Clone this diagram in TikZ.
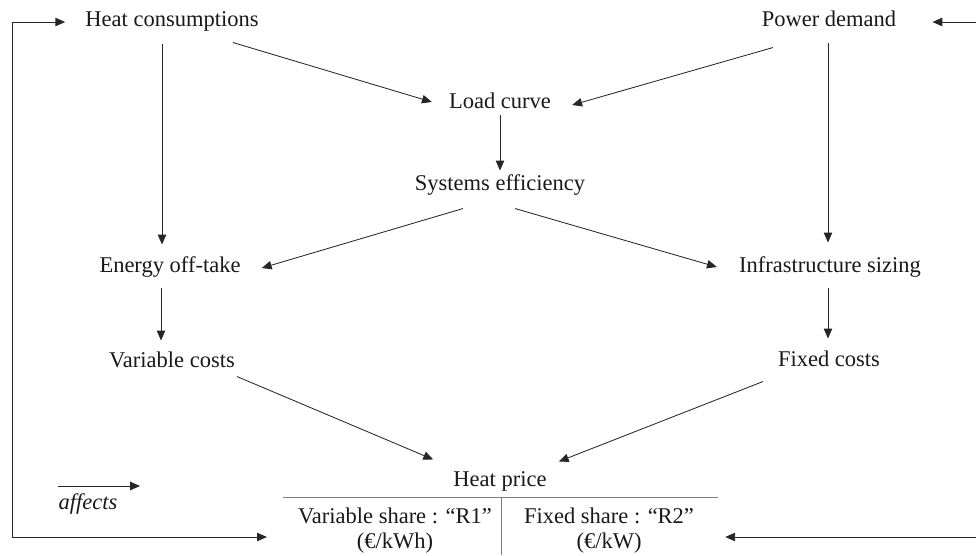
\documentclass[tikz,border=0pt]{standalone}
\usepackage{fontspec}
\setmainfont{Liberation Serif}
\usetikzlibrary{arrows.meta}
\usetikzlibrary{calc}

\begin{document}
\begin{tikzpicture}[x=0.025cm, y=-0.025cm,
    >={Triangle[length=7pt,width=6pt]},
    every node/.style={font=\fontsize{16}{17.8}\selectfont, text=black!90},
    lbl/.style={inner sep=0pt, text height=12pt, text depth=4pt},
    share/.style={inner sep=0pt, align=center},
    affect/.style={draw=black!85, line width=0.6pt, ->},
    tbl/.style={draw=black!50, line width=0.6pt}]
        \useasboundingbox (0,0) rectangle (976,555);
        \clip (0,0) rectangle (976,555);

        \node[lbl] (hc) at (172,21) {Heat consumptions};
        \node[lbl] (pd) at (829,21) {Power demand};
        \node[lbl] (lc) at (500,103) {Load curve};
        \node[lbl] (se) at (500,185) {Systems efficiency};
        \node[lbl] (eo) at (170,267) {Energy off-take};
        \node[lbl] (is) at (830,267) {Infrastructure sizing};
        \node[lbl] (vc) at (172,362) {Variable costs};
        \node[lbl] (fc) at (829,361) {Fixed costs};
        \node[lbl] (hp) at (500,481) {Heat price};
        \node[share] (r1) at (395,531) {Variable share : “R1”\\(€/kWh)};
        \node[share] (r2) at (609,531) {Fixed share : “R2”\\(€/kW)};
        \node[lbl] (aff) at (88,504) {\itshape affects};

        \draw[affect] ($(hc.south)+(61,10)$) -- ($(lc.west)+(-17,-1)$);
        \draw[affect] ($(pd.south)+(-56,15)$) -- ($(lc.east)+(21,2)$);
        \draw[affect] (lc.south) -- ($(se.north)+(0,-3)$);
        \draw[affect] ($(hc.south)+(-10,11)$) -- ($(eo.north)+(-8,-11)$);
        \draw[affect] ($(pd.south)+(-1,10)$) -- ($(is.north)+(-2,-13)$);
        \draw[affect] ($(se.south)+(-37,12)$) -- ($(eo.east)+(21,1)$);
        \draw[affect] ($(se.south)+(15,12)$) -- ($(is.west)+(-22,0)$);
        \draw[affect] ($(eo.south)+(-9,9)$) -- ($(vc.north)+(-11,-10)$);
        \draw[affect] ($(is.south)+(-2,9)$) -- ($(fc.north)+(-1,-11)$);
        \draw[affect] ($(vc.south)+(65,3)$) -- ($(hp.north west)+(-20,-10)$);
        \draw[affect] ($(fc.south)+(-66,9)$) -- ($(hp.north east)+(12,-8)$);

        % feedback of the price on both demands
        \coordinate (fl1) at (12,22);
        \coordinate (fl2) at (12,537);
        \coordinate (fr1) at (985,22);
        \coordinate (fr2) at (985,537);
        \draw[affect, <->] ($(hc.west)+(-20,1)$) -- (fl1) -- (fl2) -- ($(r1.west)+(-31,6)$);
        \draw[affect, <->] ($(pd.east)+(36,1)$) -- (fr1) -- (fr2) -- ($(r2.east)+(31,6)$);

        % price table
        \coordinate (tl) at (283,497);
        \coordinate (tr) at (718,497);
        \coordinate (tm) at (501,497);
        \coordinate (tb) at (501,555);
        \draw[tbl] (tl) -- (tr);
        \draw[tbl] (tm) -- (tb);

        % legend
        \coordinate (lga) at (58,486);
        \coordinate (lgb) at (140,486);
        \draw[affect] (lga) -- (lgb);
    \end{tikzpicture}
\end{document}
